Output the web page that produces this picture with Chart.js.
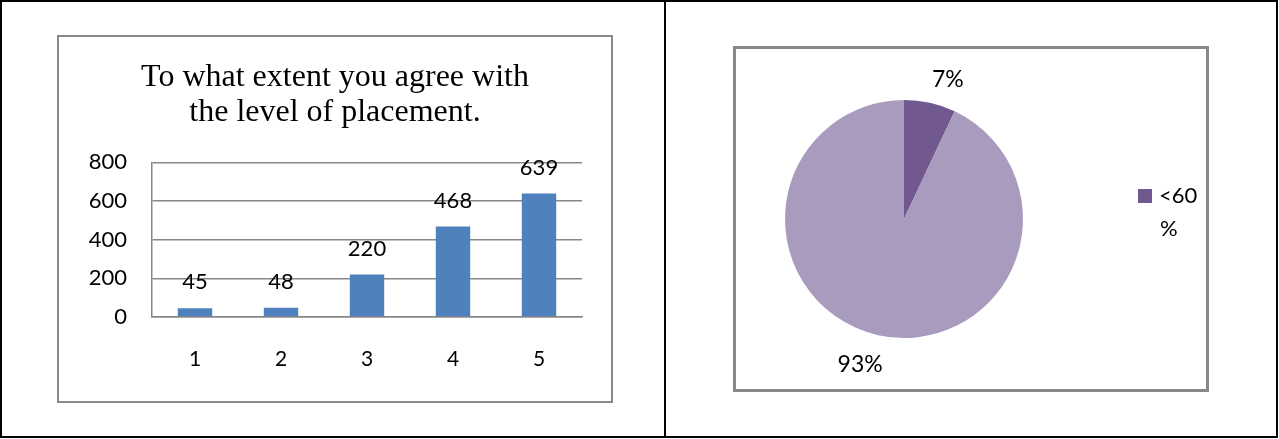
<!DOCTYPE html>
<html>
<head>
<meta charset="utf-8">
<script src="https://cdn.jsdelivr.net/npm/chart.js@4.4.1/dist/chart.umd.min.js"></script>
<style>
  html, body { margin: 0; padding: 0; background: #fff; }
  #page { position: relative; width: 1279px; height: 439px; }
  .frame { position: absolute; left: 0; top: 0; width: 1278px; height: 438px; border: 2px solid #000; box-sizing: border-box; }
  .divider { position: absolute; left: 664px; top: 0; width: 2px; height: 438px; background: #000; }
  .box { position: absolute; border: 2px solid #898989; box-sizing: border-box; background: #fff; }
  #barBox { left: 57px; top: 35px; width: 556px; height: 368px; }
  #pieBox { left: 733px; top: 46px; width: 476px; height: 346px; border-width: 3px; }
  canvas { display: block; }
</style>
</head>
<body>
<div id="page">
  <div class="frame"></div>
  <div class="divider"></div>
  <div class="box" id="barBox"><canvas id="barChart" width="552" height="364"></canvas></div>
  <div class="box" id="pieBox"><canvas id="pieChart" width="470" height="340"></canvas></div>
</div>
<script>
// bar chart data
const barTitle = ["To what extent you agree with", "the level of placement."];
const barCategories = ["1", "2", "3", "4", "5"];
const barValues = [45, 48, 220, 468, 639];
const yTicks = [0, 200, 400, 600, 800];

// pie chart data
const pieLabels = ["<60 %", ">60 %"];
const pieValues = [7, 93];
const pieColors = ["#71588F", "#A99BBD"];

const sansFont = "Lato, 'Open Sans', sans-serif";
const gridGray = "#878787";

// value labels above the bars
const barLabels = {
  id: "barLabels",
  afterDatasetsDraw(chart) {
    const ctx = chart.ctx;
    const meta = chart.getDatasetMeta(0);
    ctx.save();
    ctx.font = "22px " + sansFont;
    ctx.fillStyle = "#000";
    ctx.textAlign = "center";
    ctx.textBaseline = "middle";
    meta.data.forEach((bar, i) => {
      ctx.fillText(String(barValues[i]), bar.x, bar.y - 26);
    });
    ctx.restore();
  }
};

new Chart(document.getElementById("barChart"), {
  type: "bar",
  data: {
    labels: barCategories,
    datasets: [{
      data: barValues,
      backgroundColor: "#4F81BD",
      barPercentage: 0.5,
      categoryPercentage: 0.8
    }]
  },
  options: {
    responsive: false,
    animation: false,
    layout: { padding: 0 },
    plugins: {
      legend: { display: false },
      tooltip: { enabled: false },
      title: {
        display: true,
        text: barTitle,
        color: "#000",
        font: { family: "'Liberation Serif', 'Times New Roman', serif", size: 32, weight: "normal", lineHeight: 1.1 },
        padding: { top: 23, bottom: 32 }
      }
    },
    scales: {
      x: {
        grid: { display: false, drawTicks: false },
        border: { display: true, color: gridGray, width: 1.5 },
        ticks: { color: "#000", font: { family: sansFont, size: 21 }, padding: 30 },
        afterFit(scale) { scale.height = 84; }
      },
      y: {
        min: 0,
        max: 800,
        afterBuildTicks(scale) { scale.ticks = yTicks.map(v => ({ value: v })); },
        grid: { color: gridGray, lineWidth: 1.5, drawTicks: false },
        border: { display: true, color: gridGray, width: 1.5 },
        ticks: { color: "#000", font: { family: sansFont, size: 22 }, padding: 25 },
        afterFit(scale) { scale.width = 93; }
      },
      // empty spacer on the right so the title stays centred on the whole box
      spacer: {
        type: "linear",
        position: "right",
        grid: { display: false, drawTicks: false },
        border: { display: false },
        ticks: { display: false },
        afterFit(scale) { scale.width = 29; }
      }
    }
  },
  plugins: [barLabels]
});

// percent labels outside slices + legend for the first slice
const pieExtras = {
  id: "pieExtras",
  afterDatasetsDraw(chart) {
    const ctx = chart.ctx;
    const meta = chart.getDatasetMeta(0);
    const total = pieValues.reduce((a, b) => a + b, 0);
    ctx.save();
    ctx.font = "23px " + sansFont;
    ctx.fillStyle = "#000";
    ctx.textAlign = "center";
    ctx.textBaseline = "middle";
    meta.data.forEach((arc, i) => {
      const mid = (arc.startAngle + arc.endAngle) / 2;
      const d = arc.outerRadius + 27;
      const cx = Math.cos(mid), cy = Math.sin(mid);
      const pct = Math.round(pieValues[i] / total * 100) + "%";
      ctx.fillText(pct, arc.x + cx * d + Math.sign(cx) * 12, arc.y + cy * d + 3);
    });

    // legend (only the first entry is visible, wrapped over two lines)
    const lx = 402, ly = 140;
    ctx.fillStyle = pieColors[0];
    ctx.fillRect(lx, ly, 14, 14);
    ctx.fillStyle = "#000";
    ctx.textAlign = "left";
    ctx.font = "22px " + sansFont;
    const parts = pieLabels[0].split(" ");
    ctx.fillText(parts[0], lx + 21, ly + 7);
    ctx.fillText(parts[1], lx + 22, ly + 40);
    ctx.restore();
  }
};

new Chart(document.getElementById("pieChart"), {
  type: "pie",
  data: {
    labels: pieLabels,
    datasets: [{
      data: pieValues,
      backgroundColor: pieColors,
      borderWidth: 0
    }]
  },
  options: {
    responsive: false,
    animation: false,
    layout: { padding: { left: 49, right: 183, top: 51, bottom: 51 } },
    plugins: {
      legend: { display: false },
      tooltip: { enabled: false }
    }
  },
  plugins: [pieExtras]
});
</script>
</body>
</html>
